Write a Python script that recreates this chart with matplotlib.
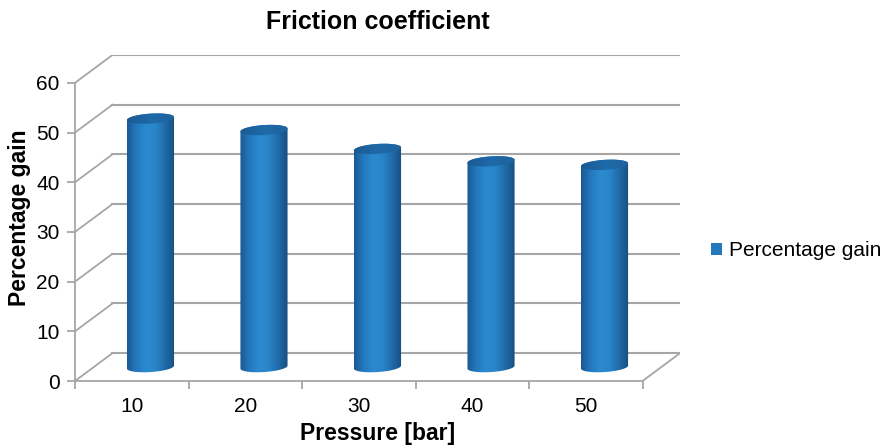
import numpy as np
import matplotlib.pyplot as plt
from matplotlib.path import Path
from matplotlib.patches import PathPatch, Rectangle
from matplotlib.colors import LinearSegmentedColormap

plt.rcParams['font.family'] = ['Liberation Sans', 'DejaVu Sans']

pressure = ['10', '20', '30', '40', '50']
gain = [50.0, 47.7, 43.9, 41.4, 40.7]
yticks = [0, 10, 20, 30, 40, 50, 60]

# fake 3d: offset of the back wall in data units
dx = 0.33
dy = 5.6
bar_w = 0.415
ell_h = 2.0
tilt = 0.6   # rise of the ellipses from left to right edge

grid_c = '#a6a6a6'

fig = plt.figure(figsize=(8.83, 4.48), dpi=100)
ax = fig.add_axes([75 / 883, 67 / 448, 605 / 883, 326 / 448])
ax.set_xlim(0, 5 + dx)
ax.set_ylim(0, 60 + dy)

# back wall gridlines + left wall diagonals
for v in yticks:
    ax.plot([dx, 5 + dx], [v + dy, v + dy], color=grid_c, lw=1.5, zorder=1)
    ax.plot([0, dx], [v, v + dy], color=grid_c, lw=1.3, zorder=1)
# floor right edge
ax.plot([5, 5 + dx], [0, dy], color=grid_c, lw=1.3, zorder=1)

cmap = LinearSegmentedColormap.from_list('cyl', ['#1a5894', '#2479bd', '#2b8ad0', '#2a85c8', '#1f6aa8', '#174f80'])
top_cmap = LinearSegmentedColormap.from_list('top', ['#1a5a93', '#1f6aa8', '#1d639f'])


def ellipse_pts(cx, cy, t):
    x = cx + bar_w / 2 * np.cos(t)
    y = cy + ell_h / 2 * np.sin(t) + tilt * (x - cx) / bar_w
    return x, y


for i, v in enumerate(gain):
    cx = i + 0.5 + dx / 2
    base = dy / 2
    top = v + dy / 2
    x0, x1 = cx - bar_w / 2, cx + bar_w / 2
    tb = np.linspace(np.pi, 2 * np.pi, 40)
    tt = np.linspace(0, np.pi, 40)
    bx, by = ellipse_pts(cx, base, tb)
    tx, ty = ellipse_pts(cx, top, tt)
    verts = np.concatenate([np.column_stack([bx, by]), np.column_stack([tx, ty])])
    verts = np.vstack([verts, verts[:1]])
    body = PathPatch(Path(verts, closed=True), fc='none', ec='none', zorder=3)
    ax.add_patch(body)
    grad = np.linspace(0, 1, 256).reshape(1, -1)
    im = ax.imshow(grad, cmap=cmap, aspect='auto', extent=[x0, x1, base - 2, top + 2],
                   zorder=3, interpolation='bicubic')
    im.set_clip_path(body)

    ta = np.linspace(0, 2 * np.pi, 80)
    ex, ey = ellipse_pts(cx, top, ta)
    cap = PathPatch(Path(np.column_stack([ex, ey]), closed=True), fc='none', ec='none', zorder=4)
    ax.add_patch(cap)
    im2 = ax.imshow(grad, cmap=top_cmap, aspect='auto', extent=[x0, x1, top - 2, top + 2],
                    zorder=4, interpolation='bicubic')
    im2.set_clip_path(cap)

for s in ['top', 'right']:
    ax.spines[s].set_visible(False)
ax.spines['left'].set_bounds(0, 60)
ax.spines['bottom'].set_bounds(0, 5)
ax.spines['left'].set_color(grid_c)
ax.spines['bottom'].set_color(grid_c)
ax.spines['left'].set_linewidth(1.3)
ax.spines['bottom'].set_linewidth(1.3)

ax.set_yticks(yticks)
ax.set_yticklabels([str(t) for t in yticks], fontsize=15)
ax.set_xticks(range(6))
ax.set_xticklabels([''] * 6)
ax.set_xticks([i + 0.5 for i in range(5)], minor=True)
ax.set_xticklabels(pressure, minor=True, fontsize=15)
ax.tick_params(axis='both', which='major', color=grid_c, length=6, width=1.3)
ax.tick_params(axis='x', which='minor', length=0, pad=11.5)
ax.tick_params(axis='y', pad=5)

ax.set_title('Friction coefficient', fontsize=18, fontweight='bold', pad=19)
ax.set_xlabel('Pressure [bar]', fontsize=16.5, fontweight='bold', labelpad=4)
ax.set_ylabel('Percentage gain', fontsize=16.5, fontweight='bold', labelpad=4)

handle = Rectangle((0, 0), 1, 1, fc='#2479bd', ec='none')
fig.legend([handle], ['Percentage gain'], loc='center left', bbox_to_anchor=(711 / 883, 1 - 251 / 448),
           frameon=False, fontsize=15, handlelength=0.55, handleheight=0.55, handletextpad=0.3,
           borderpad=0, borderaxespad=0)

fig.savefig('out.png', dpi=100)
